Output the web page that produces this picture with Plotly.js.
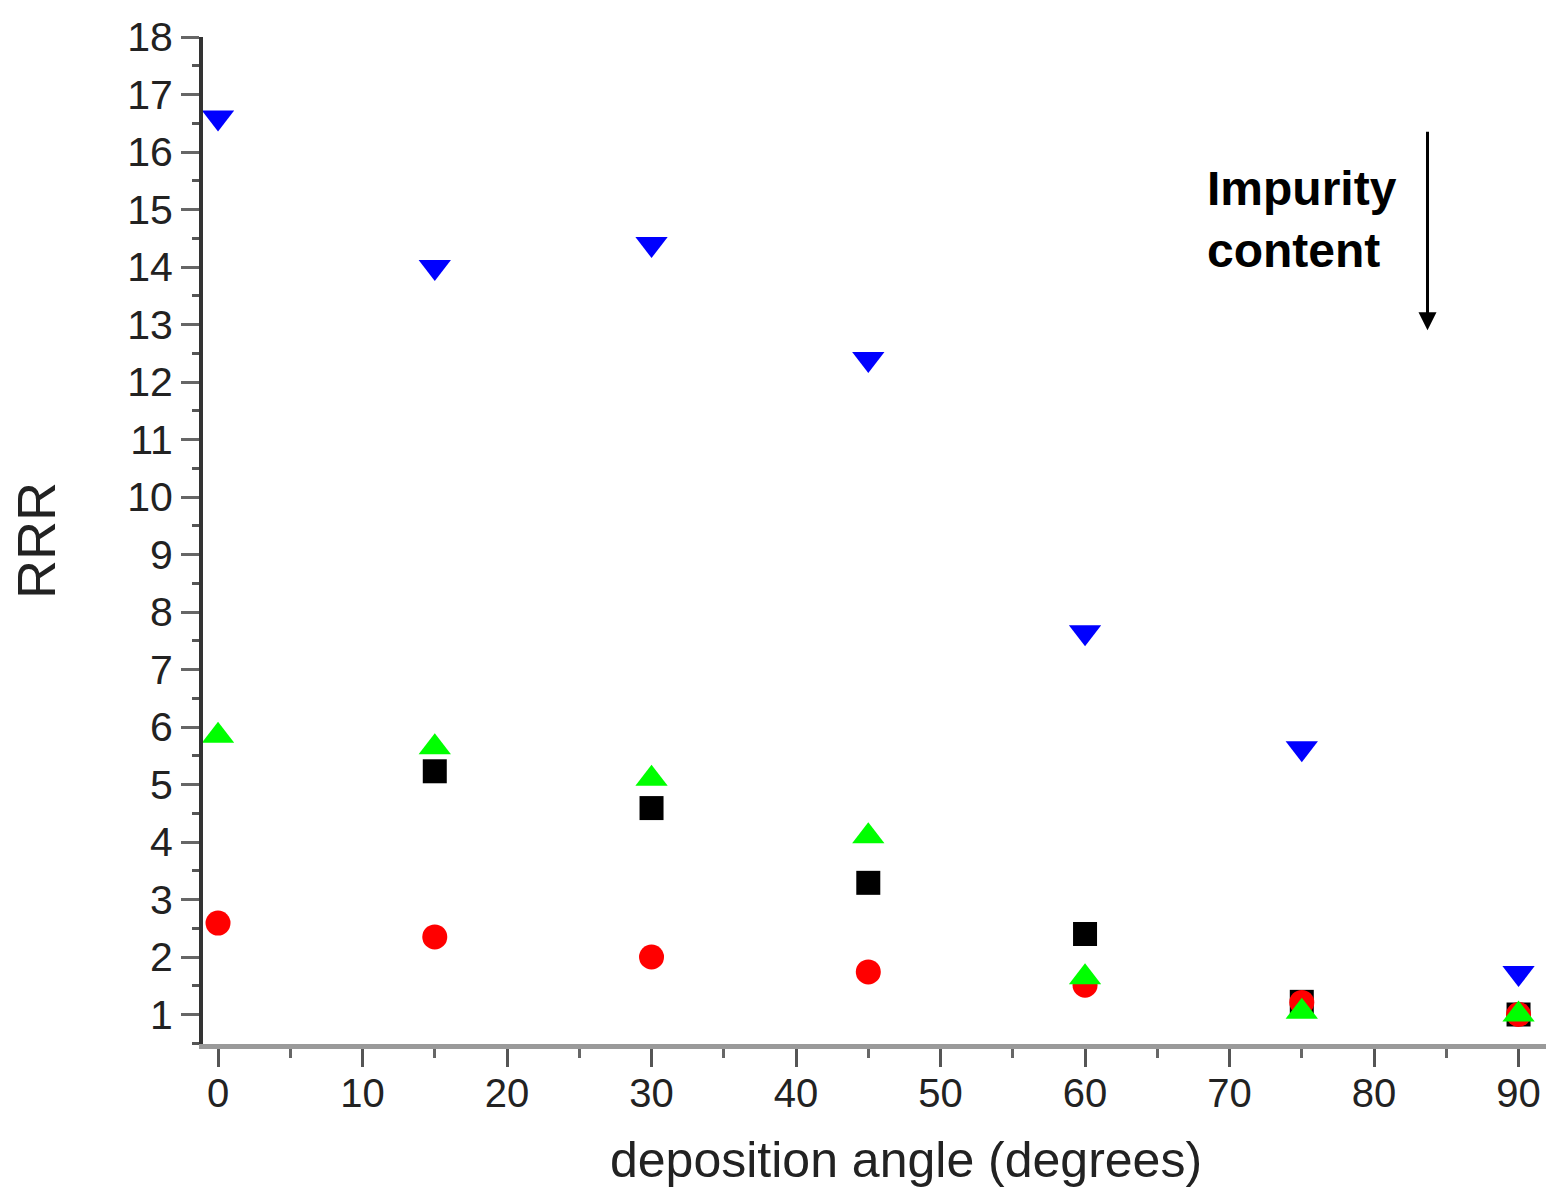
<!DOCTYPE html>
<html>
<head>
<meta charset="utf-8">
<script src="https://cdn.plot.ly/plotly-3.0.1.min.js"></script>
<style>
  html, body { margin: 0; padding: 0; background: #fff; }
  #chart { width: 1549px; height: 1193px; }
</style>
</head>
<body>
<div id="chart"></div>
<script>
// Deposition angles (degrees)
const angles = [0, 15, 30, 45, 60, 75, 90];
// RRR series
const rrrBlack = [null, 5.23, 4.59, 3.29, 2.40, 1.22, 1.0];
const rrrRed   = [2.59, 2.35, 2.00, 1.74, 1.51, 1.21, 1.0];
const rrrGreen = [5.85, 5.65, 5.10, 4.10, 1.65, 1.05, 1.0];
const rrrBlue  = [16.6, 14.0, 14.4, 12.4, 7.65, 5.63, 1.72];

const xTickVals = [0, 10, 20, 30, 40, 50, 60, 70, 80, 90];
const yTickVals = [1,2,3,4,5,6,7,8,9,10,11,12,13,14,15,16,17,18];

const xTitle = 'deposition angle (degrees)';
const yTitle = 'RRR';
const noteText = '<b>Impurity<br>content</b>';

const FONT = 'Liberation Sans, Arial, sans-serif';

function series(y, color, symbol, size) {
  return {
    x: angles, y: y, type: 'scatter', mode: 'markers',
    marker: { color: color, symbol: symbol, size: size, line: { width: 0 } },
    showlegend: false, hoverinfo: 'skip'
  };
}

const data = [
  series(rrrBlack, '#000000', 'square', 24),
  series(rrrRed, '#ff0000', 'circle', 25),
  series(rrrGreen, '#00ff00', 'triangle-up', 28),
  series(rrrBlue, '#0000ff', 'triangle-down', 28)
];

const layout = {
  width: 1549, height: 1193,
  paper_bgcolor: '#ffffff', plot_bgcolor: '#ffffff',
  margin: { l: 203, r: 3, t: 37, b: 149, pad: 0 },
  showlegend: false,
  xaxis: {
    range: [-1.04, 91.9],
    tickmode: 'array', tickvals: xTickVals, ticktext: xTickVals.map(String),
    ticks: 'outside', ticklen: 18, tickwidth: 3, tickcolor: '#555',
    minor: { dtick: 5, tick0: 0, ticks: 'outside', ticklen: 9, tickwidth: 3, tickcolor: '#666' },
    showline: true, linecolor: '#9a9a9a', linewidth: 5,
    showgrid: false, zeroline: false,
    ticklabelstandoff: -8,
    tickfont: { family: FONT, size: 40, color: '#222' }
  },
  yaxis: {
    range: [0.487, 18.0],
    tickmode: 'array', tickvals: yTickVals, ticktext: yTickVals.map(String),
    ticks: 'outside', ticklen: 18, tickwidth: 3, tickcolor: '#666',
    minor: { dtick: 0.5, tick0: 0, ticks: 'outside', ticklen: 7, tickwidth: 3, tickcolor: '#555' },
    showline: true, linecolor: '#333', linewidth: 4,
    showgrid: false, zeroline: false,
    tickfont: { family: FONT, size: 41, color: '#222' },
    title: { text: yTitle, font: { family: FONT, size: 54, color: '#222' }, standoff: 55 }
  },
  annotations: [
    {
      xref: 'paper', yref: 'paper', x: 0.5235, y: -0.1152,
      xanchor: 'center', yanchor: 'middle',
      text: xTitle, showarrow: false,
      font: { family: FONT, size: 50, color: '#222' }
    },
    {
      xref: 'x', yref: 'y', x: 68.3, y: 14.83,
      xanchor: 'left', yanchor: 'middle', align: 'left',
      text: noteText, showarrow: false,
      font: { family: FONT, size: 48, color: '#000' }
    },
    {
      xref: 'x', yref: 'y', x: 83.7, y: 12.9,
      axref: 'x', ayref: 'y', ax: 83.7, ay: 16.38,
      text: '', showarrow: true, arrowhead: 2, arrowsize: 1.2, arrowwidth: 3, arrowcolor: '#000'
    }
  ]
};

Plotly.newPlot('chart', data, layout, { displayModeBar: false, staticPlot: true });
</script>
</body>
</html>
